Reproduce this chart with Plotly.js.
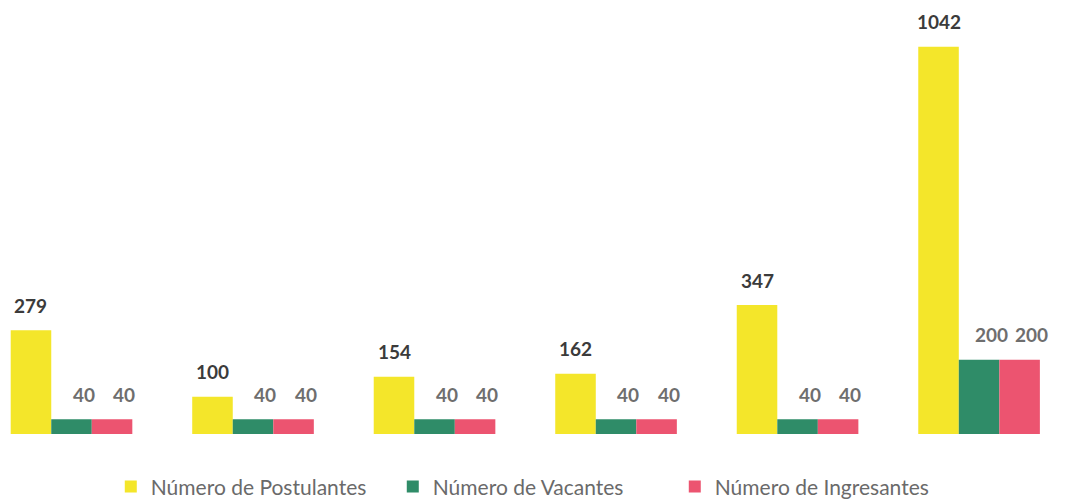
<!DOCTYPE html>
<html>
<head>
<meta charset="utf-8">
<script src="https://cdn.plot.ly/plotly-3.0.1.min.js"></script>
<style>html,body{margin:0;padding:0;background:#fff;}#chart{width:1074px;height:499px;}</style>
</head>
<body>
<div id="chart"></div>
<script>
const categories = ["G1", "G2", "G3", "G4", "G5", "G6"];
const postulantes = [279, 100, 154, 162, 347, 1042];
const vacantes = [40, 40, 40, 40, 40, 200];
const ingresantes = [40, 40, 40, 40, 40, 200];
const seriesNames = ["Número de Postulantes", "Número de Vacantes", "Número de Ingresantes"];

const fontFam = "Lato, 'Open Sans', sans-serif";
const colors = ["#F4E62A", "#2F8C68", "#EC5470"];
const labelColors = ["#3b3b3b", "#6e6e6e", "#6e6e6e"];
const labelXShift = [0, 12, 12];
const bargap = 0.33;
const series = [postulantes, vacantes, ingresantes];

const data = series.map((vals, k) => ({
  type: "bar", name: seriesNames[k], x: categories, y: vals,
  marker: {color: colors[k]}, hoverinfo: "none"
}));

const barW = (1 - bargap) / series.length;
const annotations = [];
series.forEach((vals, k) => {
  vals.forEach((v, i) => {
    annotations.push({
      x: i + (k - 1) * barW, y: v, xref: "x", yref: "y",
      text: String(v), showarrow: false, yanchor: "middle", yshift: 25, xshift: labelXShift[k],
      font: {family: fontFam, size: 19, color: labelColors[k], weight: 700}
    });
  });
});

const layout = {
  width: 1074, height: 499,
  margin: {l: 0, r: 0, t: 0, b: 65, autoexpand: false},
  paper_bgcolor: "#fff", plot_bgcolor: "#fff",
  barmode: "group", bargap: bargap, bargroupgap: 0,
  xaxis: {range: [-0.394, 5.523], showticklabels: false, showgrid: false, zeroline: false, showline: false, ticks: ""},
  yaxis: {range: [0, 1168], visible: false},
  showlegend: true,
  legend: {orientation: "h", x: 0.497, xanchor: "center", y: -0.122, yanchor: "middle",
           font: {family: fontFam, size: 21, color: "#6a6a6a"}, entrywidth: 237},
  annotations: annotations,
  font: {family: fontFam}
};
Plotly.newPlot("chart", data, layout, {displayModeBar: false, staticPlot: true});
</script>
</body>
</html>
